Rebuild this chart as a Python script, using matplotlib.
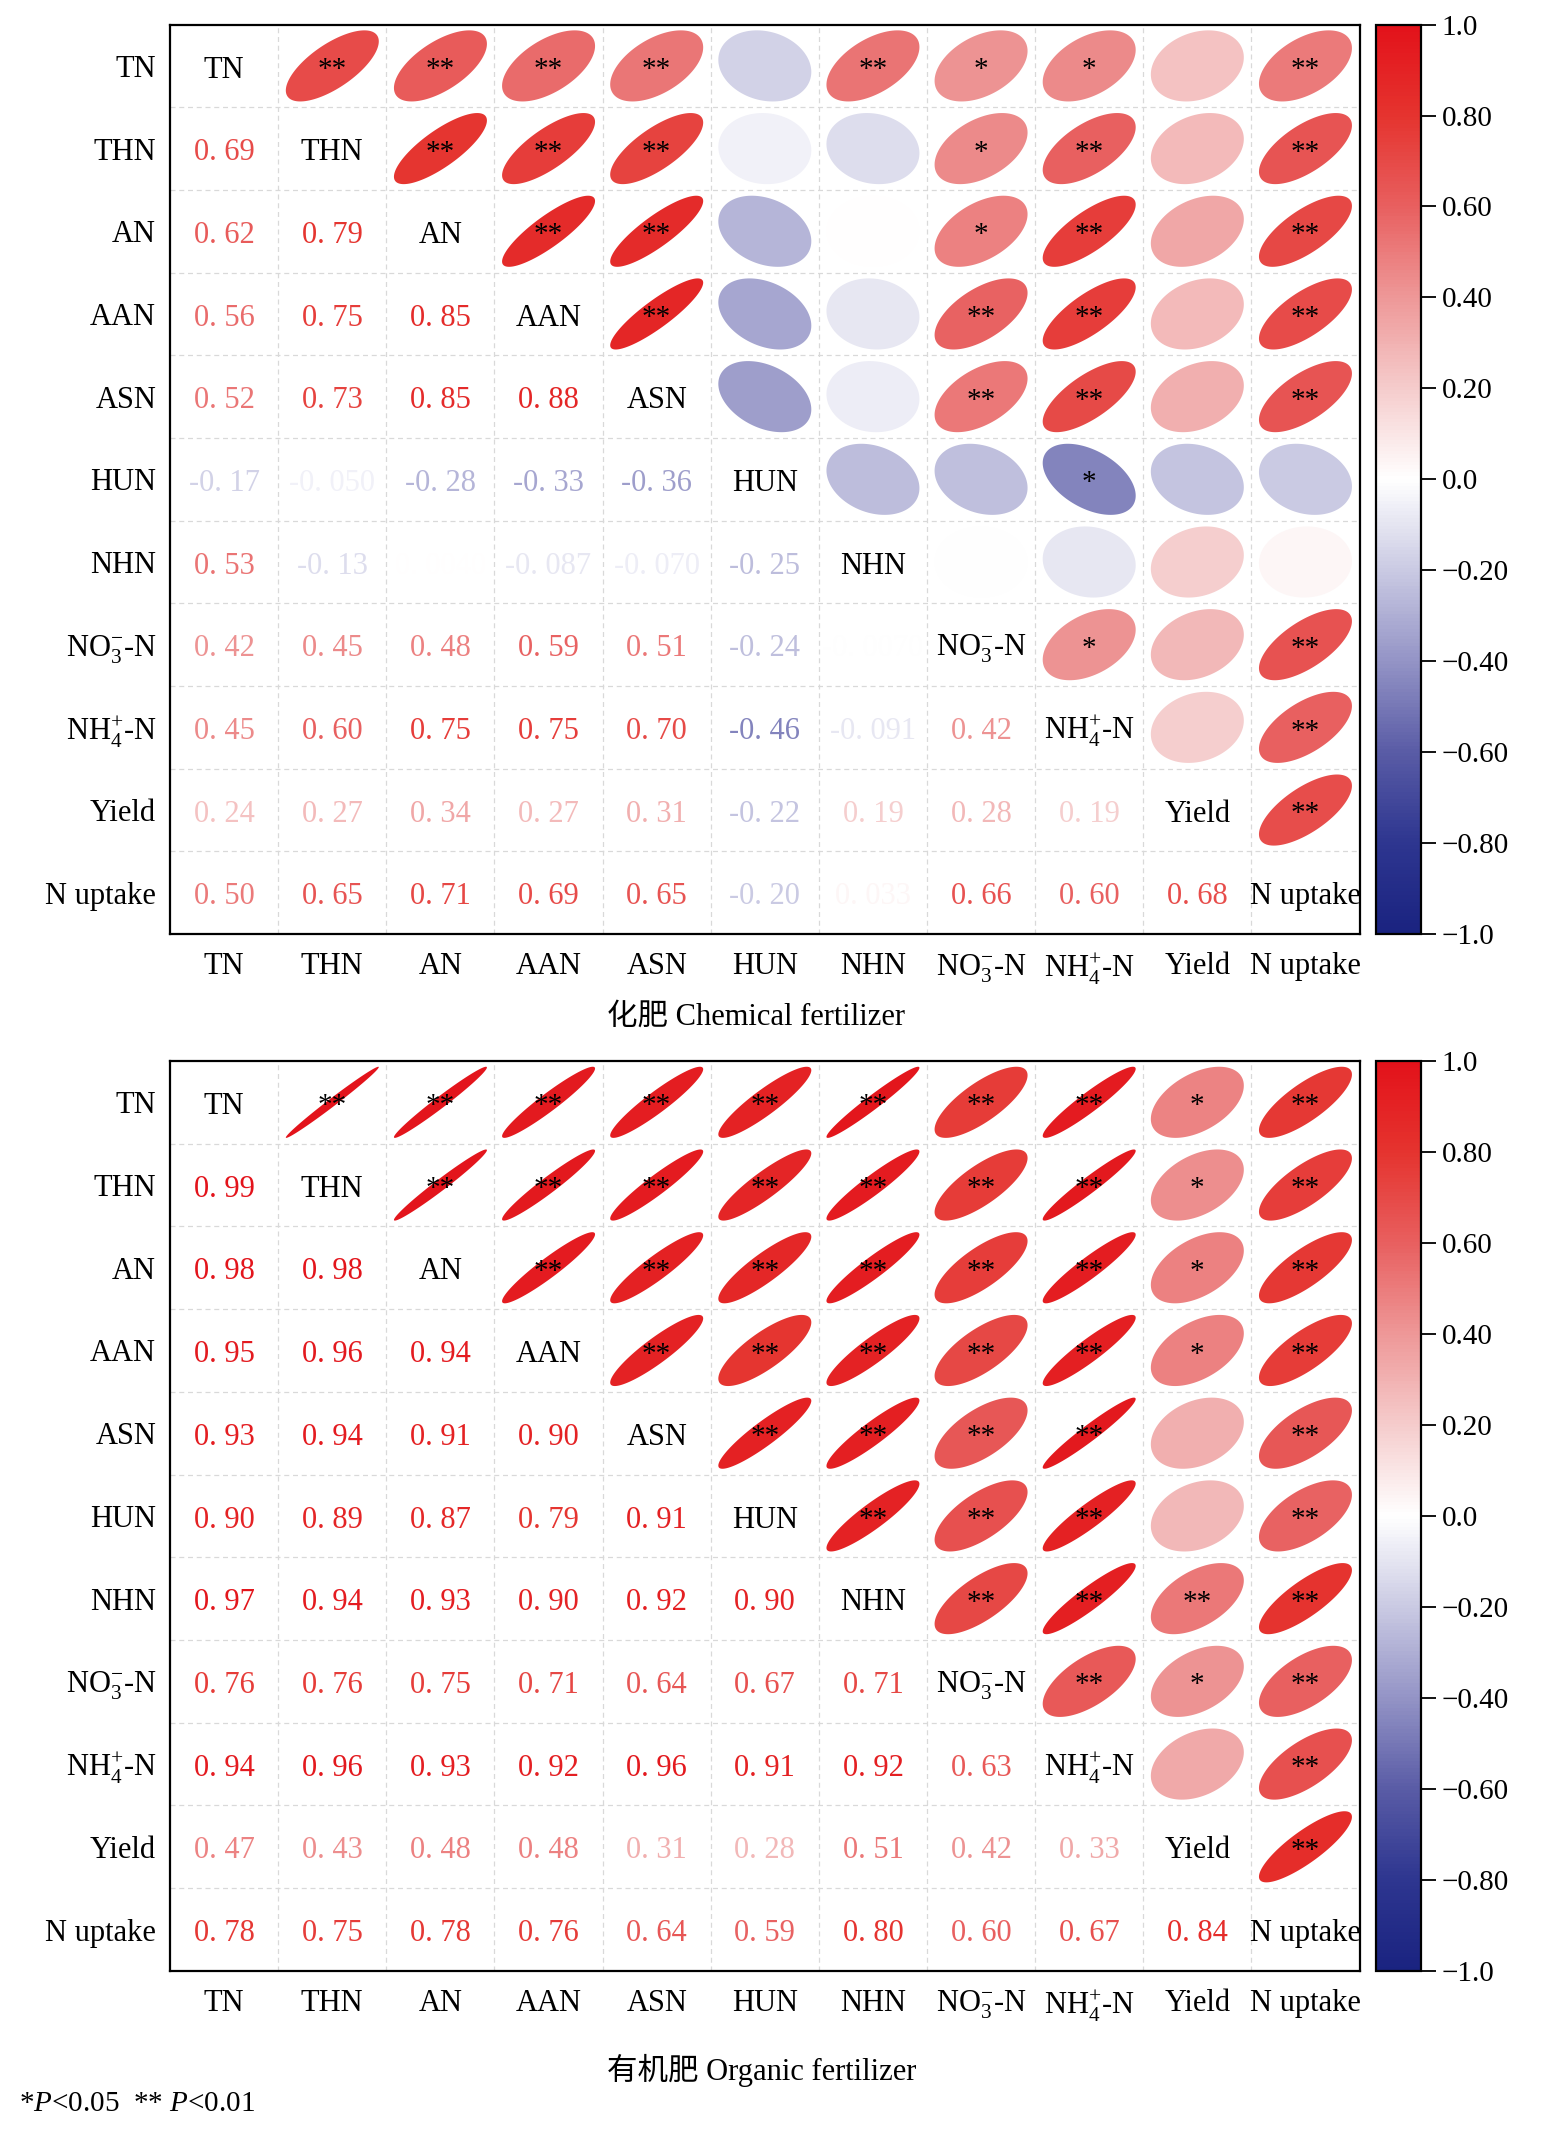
import numpy as np
import matplotlib.pyplot as plt
from matplotlib.colors import LinearSegmentedColormap, Normalize
from matplotlib.patches import Polygon
from matplotlib.cm import ScalarMappable

plt.rcParams['font.family'] = ['Liberation Serif', 'Noto Sans CJK SC']
plt.rcParams['mathtext.fontset'] = 'custom'
plt.rcParams['mathtext.rm'] = 'Liberation Serif'
plt.rcParams['mathtext.it'] = 'Liberation Serif:italic'

# --- variables ---
VARS = ['TN', 'THN', 'AN', 'AAN', 'ASN', 'HUN', 'NHN',
        r'NO$_3^{-}$-N', r'NH$_4^{+}$-N', 'Yield', 'N uptake']

# lower triangle r values, row by row (row i has i entries)
chem_lower = [
    [],
    [0.69],
    [0.62, 0.79],
    [0.56, 0.75, 0.85],
    [0.52, 0.73, 0.85, 0.88],
    [-0.17, -0.050, -0.28, -0.33, -0.36],
    [0.53, -0.13, 0.004, -0.087, -0.070, -0.25],
    [0.42, 0.45, 0.48, 0.59, 0.51, -0.24, -0.0070],
    [0.45, 0.60, 0.75, 0.75, 0.70, -0.46, -0.091, 0.42],
    [0.24, 0.27, 0.34, 0.27, 0.31, -0.22, 0.19, 0.28, 0.19],
    [0.50, 0.65, 0.71, 0.69, 0.65, -0.20, 0.033, 0.66, 0.60, 0.68],
]
org_lower = [
    [],
    [0.99],
    [0.98, 0.98],
    [0.95, 0.96, 0.94],
    [0.93, 0.94, 0.91, 0.90],
    [0.90, 0.89, 0.87, 0.79, 0.91],
    [0.97, 0.94, 0.93, 0.90, 0.92, 0.90],
    [0.76, 0.76, 0.75, 0.71, 0.64, 0.67, 0.71],
    [0.94, 0.96, 0.93, 0.92, 0.96, 0.91, 0.92, 0.63],
    [0.47, 0.43, 0.48, 0.48, 0.31, 0.28, 0.51, 0.42, 0.33],
    [0.78, 0.75, 0.78, 0.76, 0.64, 0.59, 0.80, 0.60, 0.67, 0.84],
]

# significance marks in the upper triangle, row by row (columns right of diagonal)
chem_sig = [
    ['**', '**', '**', '**', '', '**', '*', '*', '', '**'],
    ['**', '**', '**', '', '', '*', '**', '', '**'],
    ['**', '**', '', '', '*', '**', '', '**'],
    ['**', '', '', '**', '**', '', '**'],
    ['', '', '**', '**', '', '**'],
    ['', '', '*', '', ''],
    ['', '', '', ''],
    ['*', '', '**'],
    ['', '**'],
    ['**'],
    [],
]
org_sig = [
    ['**', '**', '**', '**', '**', '**', '**', '**', '*', '**'],
    ['**', '**', '**', '**', '**', '**', '**', '*', '**'],
    ['**', '**', '**', '**', '**', '**', '*', '**'],
    ['**', '**', '**', '**', '**', '*', '**'],
    ['**', '**', '**', '**', '', '**'],
    ['**', '**', '**', '', '**'],
    ['**', '**', '**', '**'],
    ['**', '*', '**'],
    ['', '**'],
    ['**'],
    [],
]

CB_TICKS = [-1.0, -0.8, -0.6, -0.4, -0.2, 0.0, 0.2, 0.4, 0.6, 0.8, 1.0]
CB_LABELS = ['\u22121.0', '\u22120.80', '\u22120.60', '\u22120.40', '\u22120.20',
             '0.0', '0.20', '0.40', '0.60', '0.80', '1.0']

cmap = LinearSegmentedColormap.from_list('corr', [
    (0.0, '#1a2380'), (0.1, '#2e3690'), (0.2, '#5a5ca6'), (0.3, '#9494c6'),
    (0.4, '#cacae3'), (0.5, '#ffffff'), (0.6, '#f5cccc'), (0.7, '#ee9898'),
    (0.8, '#e86060'), (0.9, '#e5342f'), (1.0, '#e3121a')])
norm = Normalize(-1, 1)


def full_matrix(lower):
    n = len(lower)
    m = np.eye(n)
    for i, row in enumerate(lower):
        for j, v in enumerate(row):
            m[i, j] = v
            m[j, i] = v
    return m


def fmt(v):
    a = abs(v)
    dec = 2 if a >= 0.1 else int(2 - np.floor(np.log10(a)) - 1)
    s = f"{v:.{dec}f}"
    return s.replace('.', '. ')


def draw_matrix(ax, lower, sig):
    r = full_matrix(lower)
    n = len(VARS)
    k = np.linspace(0, 2 * np.pi, 120)
    for i in range(n):
        y = n - 1 - i
        for j in range(n):
            x = j
            if i == j:
                ax.text(x, y - 0.05, VARS[i], ha='center', va='center', fontsize=22, color='black')
            elif j < i:
                ax.text(x, y - 0.05, fmt(r[i, j]), ha='center', va='center', fontsize=22,
                        color=cmap(norm(r[i, j])))
            else:
                rho = r[i, j]
                d = np.arccos(rho)
                ex = 0.43 * np.cos(k + d / 2)
                ey = 0.43 * np.cos(k - d / 2)
                ax.add_patch(Polygon(np.column_stack([x + ex, y + ey]), closed=True,
                                     facecolor=cmap(norm(rho)), edgecolor='none', zorder=2))
                mark = sig[i][j - i - 1]
                if mark:
                    ax.text(x, y - 0.05, mark, ha='center', va='center', fontsize=21,
                            color='black', zorder=3)
    for b in np.arange(0.5, n - 0.5, 1):
        ax.axvline(b, color='#d9d9d9', lw=0.9, ls=(0, (4, 3)), zorder=1)
        ax.axhline(b, color='#d9d9d9', lw=0.9, ls=(0, (4, 3)), zorder=1)
    ax.set_xlim(-0.5, n - 0.5)
    ax.set_ylim(-0.5, n - 0.5)
    ax.set_xticks(range(n))
    ax.set_xticklabels(VARS, fontsize=22)
    ax.set_yticks(range(n))
    ax.set_yticklabels(VARS[::-1], fontsize=22)
    ax.tick_params(axis='x', length=0, pad=13)
    ax.tick_params(axis='y', length=0, pad=10)
    for s in ax.spines.values():
        s.set_linewidth(1.6)


def draw_cbar(fig, rect):
    cax = fig.add_axes(rect)
    cb = fig.colorbar(ScalarMappable(norm=norm, cmap=cmap), cax=cax, ticks=CB_TICKS)
    cb.ax.set_yticklabels(CB_LABELS)
    cb.ax.tick_params(length=11, width=1.3, labelsize=21, pad=4)
    cb.outline.set_linewidth(1.6)


fig = plt.figure(figsize=(15.65, 21.36), dpi=100)

ax1 = fig.add_axes([0.1087, 0.5627, 0.760, 0.4258])
draw_matrix(ax1, chem_lower, chem_sig)
draw_cbar(fig, [0.879, 0.5627, 0.0288, 0.4258])
fig.text(0.483, 0.5238, '化肥 Chemical fertilizer', ha='center', va='center', fontsize=22)

ax2 = fig.add_axes([0.1087, 0.0773, 0.760, 0.4260])
draw_matrix(ax2, org_lower, org_sig)
draw_cbar(fig, [0.879, 0.0773, 0.0288, 0.4260])
fig.text(0.487, 0.0308, '有机肥 Organic fertilizer', ha='center', va='center', fontsize=22)

fig.text(0.012, 0.0148, r'*$P$<0.05  ** $P$<0.01', ha='left', va='center', fontsize=21)

fig.savefig('out.png', dpi=100)
